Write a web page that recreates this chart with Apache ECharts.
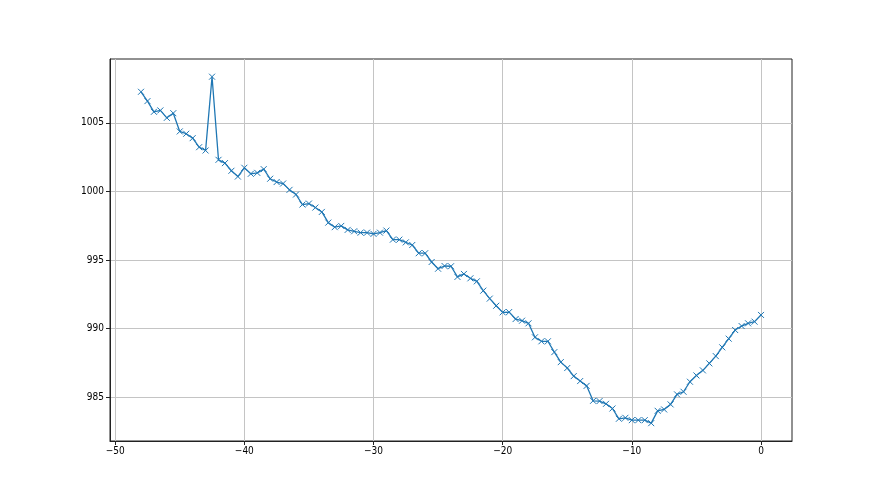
<!DOCTYPE html>
<html>
<head>
<meta charset="utf-8">
<script src="https://cdn.jsdelivr.net/npm/echarts@6/dist/echarts.min.js"></script>
<style>
  html, body { margin: 0; padding: 0; background: #fff; }
  #chart { width: 880px; height: 495px; }
</style>
</head>
<body>
<div id="chart"></div>
<script>
// x positions of the samples
const xValues = [
  -48, -47.5, -47, -46.5, -46, -45.5, -45, -44.5, -44, -43.5, -43, -42.5,
  -42, -41.5, -41, -40.5, -40, -39.5, -39, -38.5, -38, -37.5, -37, -36.5,
  -36, -35.5, -35, -34.5, -34, -33.5, -33, -32.5, -32, -31.5, -31, -30.5,
  -30, -29.5, -29, -28.5, -28, -27.5, -27, -26.5, -26, -25.5, -25, -24.5,
  -24, -23.5, -23, -22.5, -22, -21.5, -21, -20.5, -20, -19.5, -19, -18.5,
  -18, -17.5, -17, -16.5, -16, -15.5, -15, -14.5, -14, -13.5, -13, -12.5,
  -12, -11.5, -11, -10.5, -10, -9.5, -9, -8.5, -8, -7.5, -7, -6.5,
  -6, -5.5, -5, -4.5, -4, -3.5, -3, -2.5, -2, -1.5, -1, -0.5, 0
];

const yValues = [
  1007.26, 1006.58, 1005.80, 1005.90, 1005.36, 1005.70, 1004.37, 1004.20, 1003.88, 1003.22, 1002.98, 1008.36,
  1002.30, 1002.06, 1001.50, 1001.08, 1001.72, 1001.28, 1001.35, 1001.62, 1000.92, 1000.68, 1000.57, 1000.11,
  999.77, 999.04, 999.11, 998.82, 998.50, 997.72, 997.39, 997.48, 997.19, 997.09, 996.99, 996.99,
  996.90, 996.99, 997.14, 996.48, 996.48, 996.28, 996.09, 995.49, 995.49, 994.85, 994.36, 994.56,
  994.54, 993.76, 993.98, 993.66, 993.44, 992.76, 992.18, 991.66, 991.18, 991.20, 990.69, 990.57,
  990.38, 989.36, 989.07, 989.07, 988.28, 987.55, 987.12, 986.53, 986.17, 985.82, 984.73, 984.71,
  984.51, 984.17, 983.42, 983.49, 983.32, 983.32, 983.32, 983.10, 984.00, 984.10, 984.47, 985.20,
  985.39, 986.12, 986.58, 986.95, 987.46, 987.99, 988.63, 989.26, 989.89, 990.18, 990.38, 990.50, 990.99
];

const xTicks = [-50, -40, -30, -20, -10, 0];
const yTicks = [985, 990, 995, 1000, 1005];

const chart = echarts.init(document.getElementById("chart"));

const labelStyle = {
  color: "#000",
  fontFamily: "'Liberation Sans Narrow', 'DejaVu Sans Condensed', 'DejaVu Sans'",
  fontSize: 10,
  // plain numbers, unicode minus like matplotlib
  formatter: (v) => String(v).replace("-", "\u2212"),
};

const option = {
  animation: false,
  backgroundColor: "#fff",
  grid: {
    left: 110,
    top: 59,
    width: 682,
    height: 382,
    show: true,
    borderColor: "#222",
    borderWidth: 1,
  },
  xAxis: {
    type: "value",
    min: -50.4,
    max: 2.4,
    axisLine: { show: true, onZero: false, lineStyle: { color: "#222", width: 1 } },
    axisTick: {
      show: true,
      customValues: xTicks,
      length: 4,
      lineStyle: { color: "#222", width: 1 },
    },
    axisLabel: Object.assign({ customValues: xTicks, margin: 5 }, labelStyle),
    splitLine: { show: true, lineStyle: { color: "#c4c4c4", width: 1 } },
  },
  yAxis: {
    type: "value",
    min: 981.8,
    max: 1009.65,
    axisLine: { show: true, onZero: false, lineStyle: { color: "#222", width: 1 } },
    axisTick: {
      show: true,
      customValues: yTicks,
      length: 4,
      lineStyle: { color: "#222", width: 1 },
    },
    axisLabel: Object.assign({ customValues: yTicks, margin: 6 }, labelStyle),
    splitLine: { show: true, lineStyle: { color: "#c4c4c4", width: 1 } },
  },
  series: [
    {
      type: "line",
      data: xValues.map((x, i) => [x, yValues[i]]),
      lineStyle: { color: "#1f77b4", width: 1.3 },
      symbol: "path://M0,0L10,10M10,0L0,10",
      symbolSize: 6,
      showAllSymbol: true,
      itemStyle: { color: "#1f77b4", borderColor: "#1f77b4", borderWidth: 1 },
    },
  ],
};

option && chart.setOption(option);
</script>
</body>
</html>
